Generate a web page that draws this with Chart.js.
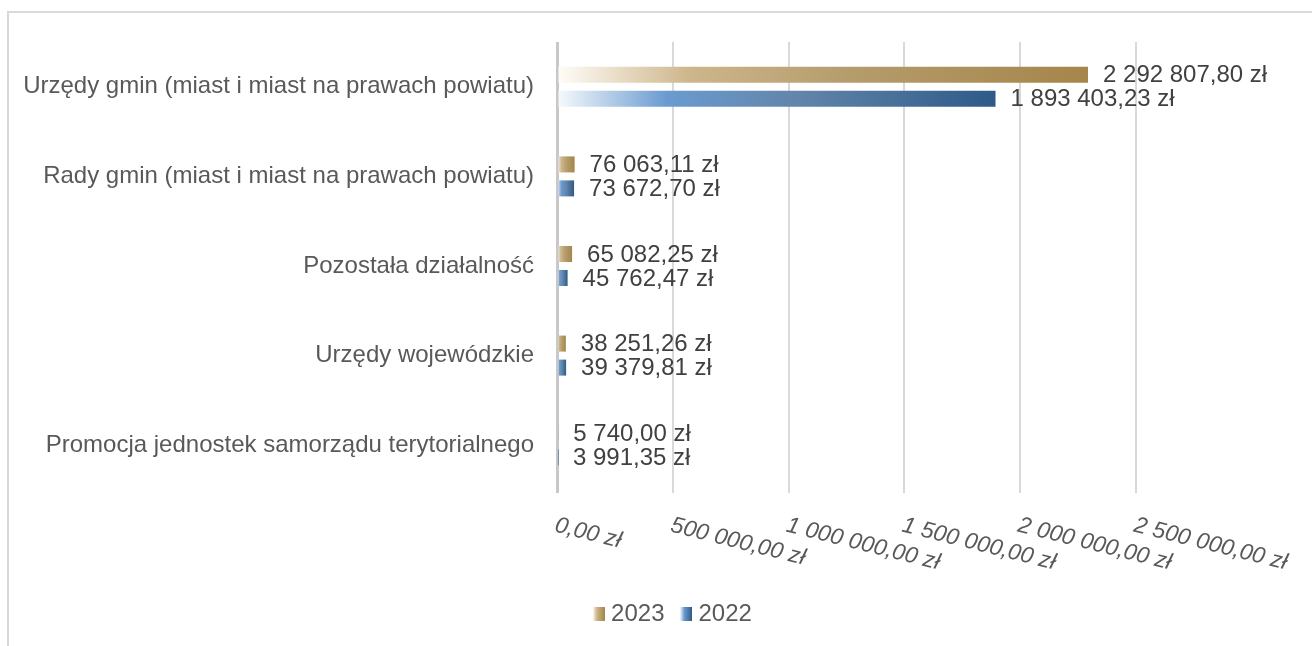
<!DOCTYPE html>
<html>
<head>
<meta charset="utf-8">
<script src="https://cdn.jsdelivr.net/npm/chart.js@4/dist/chart.umd.min.js"></script>
<style>
  html, body { margin: 0; padding: 0; background: #fff; overflow: hidden; }
  #frame { position: absolute; left: 7px; top: 11px; width: 1400px; height: 700px;
           border-left: 2px solid #d9d9d9; border-top: 2px solid #d9d9d9; }
  #chart { position: absolute; left: 0; top: 0; }
</style>
</head>
<body>
<div id="frame"></div>
<canvas id="chart" width="1312" height="646"></canvas>
<script>
const categories = [
  "Urzędy gmin (miast i miast na prawach powiatu)",
  "Rady gmin (miast i miast na prawach powiatu)",
  "Pozostała działalność",
  "Urzędy wojewódzkie",
  "Promocja jednostek samorządu terytorialnego",
];
const values2023 = [2292807.80, 76063.11, 65082.25, 38251.26, 5740.00];
const values2022 = [1893403.23, 73672.70, 45762.47, 39379.81, 3991.35];
const seriesNames = ["2023", "2022"];
const xTicks = [0, 500000, 1000000, 1500000, 2000000, 2500000];

const FONT = "'Liberation Sans', Arial, sans-serif";
const goldStops = ["#fffdf9", "#cdb68b", "#b59c6c", "#a5864a"];
const blueStops = ["#f7fafd", "#6a9bd0", "#6285aa", "#2d5a88"];

function zl(v) {
  const parts = v.toFixed(2).split(".");
  return parts[0].replace(/\B(?=(\d{3})+(?!\d))/g, " ") + "," + parts[1] + " zł";
}

function barGradient(stops) {
  return (ctx) => {
    const chart = ctx.chart;
    const x = chart.scales.x;
    if (!chart.chartArea || !x || ctx.raw == null) return stops[3];
    const x0 = x.getPixelForValue(0);
    const x1 = Math.max(x.getPixelForValue(ctx.raw), x0 + 0.5);
    const g = chart.ctx.createLinearGradient(x0, 0, x1, 0);
    g.addColorStop(0, stops[0]);
    g.addColorStop(0.25, stops[1]);
    g.addColorStop(0.55, stops[2]);
    g.addColorStop(1, stops[3]);
    return g;
  };
}

function legendSwatch(stops) {
  const c = document.createElement("canvas");
  c.width = 12; c.height = 14;
  const g = c.getContext("2d");
  const grad = g.createLinearGradient(0, 0, 12, 0);
  grad.addColorStop(0, stops[0]);
  grad.addColorStop(0.35, stops[1]);
  grad.addColorStop(1, stops[3]);
  g.fillStyle = grad;
  g.fillRect(0, 0, 12, 14);
  return c;
}
const swatches = [legendSwatch(goldStops), legendSwatch(blueStops)];

// value labels at the end of each bar
const valueLabels = {
  id: "valueLabels",
  afterDatasetsDraw(chart) {
    const ctx = chart.ctx;
    ctx.save();
    ctx.font = "24px " + FONT;
    ctx.fillStyle = "#404040";
    ctx.textAlign = "left";
    ctx.textBaseline = "middle";
    chart.data.datasets.forEach((ds, i) => {
      chart.getDatasetMeta(i).data.forEach((el, j) => {
        ctx.fillText(zl(ds.data[j]), el.x + 15, el.y + 1);
      });
    });
    ctx.restore();
  }
};

// slanted italic tick labels going down to the right
const slantTicks = {
  id: "slantTicks",
  afterDraw(chart) {
    const ctx = chart.ctx;
    const x = chart.scales.x;
    ctx.save();
    ctx.font = "italic 23px " + FONT;
    ctx.fillStyle = "#595959";
    ctx.textAlign = "left";
    ctx.textBaseline = "top";
    x.ticks.forEach((t) => {
      ctx.save();
      ctx.translate(x.getPixelForValue(t.value) + 1, chart.chartArea.bottom + 24);
      ctx.rotate(14 * Math.PI / 180);
      ctx.fillText(zl(t.value), 0, 0);
      ctx.restore();
    });
    ctx.restore();
  }
};

// move the legend to where it sits in the original
const legendShift = {
  id: "legendShift",
  afterLayout(chart) {
    chart.legend.left += 107;
    chart.legend.right += 107;
  }
};

new Chart(document.getElementById("chart"), {
  type: "bar",
  data: {
    labels: categories,
    datasets: [
      { label: seriesNames[0], data: values2023, backgroundColor: barGradient(goldStops) },
      { label: seriesNames[1], data: values2022, backgroundColor: barGradient(blueStops) },
    ],
  },
  options: {
    indexAxis: "y",
    responsive: false,
    animation: false,
    categoryPercentage: 0.536,
    barPercentage: 0.667,
    layout: { padding: { top: 42, right: 176, left: 0, bottom: 10 } },
    scales: {
      x: {
        min: 0,
        max: 2500000,
        afterBuildTicks(s) { s.ticks = xTicks.map((v) => ({ value: v })); },
        ticks: { display: false },
        grid: {
          color: (c) => (c.index === 0 ? "#c8c8c8" : "#d9d9d9"),
          lineWidth: (c) => (c.index === 0 ? 3 : 2),
          drawTicks: true,
          tickLength: 3,
        },
        border: { display: false },
        afterFit(s) { s.height = 91; },
      },
      y: {
        grid: { display: false, drawTicks: false },
        border: { display: false },
        ticks: { font: { size: 24, family: FONT }, color: "#595959", padding: 23 },
        afterFit(s) { s.width = 557; },
      },
    },
    plugins: {
      legend: {
        position: "bottom",
        labels: {
          usePointStyle: true,
          boxWidth: 1,
          padding: 21,
          font: { size: 24, family: FONT },
          color: "#595959",
          generateLabels(chart) {
            return chart.data.datasets.map((ds, i) => ({
              text: ds.label,
              pointStyle: swatches[i],
              fillStyle: "transparent",
              strokeStyle: "transparent",
              lineWidth: 0,
              hidden: false,
              datasetIndex: i,
              fontColor: "#595959",
            }));
          },
        },
      },
      tooltip: { enabled: false },
    },
  },
  plugins: [valueLabels, slantTicks, legendShift],
});
</script>
</body>
</html>
